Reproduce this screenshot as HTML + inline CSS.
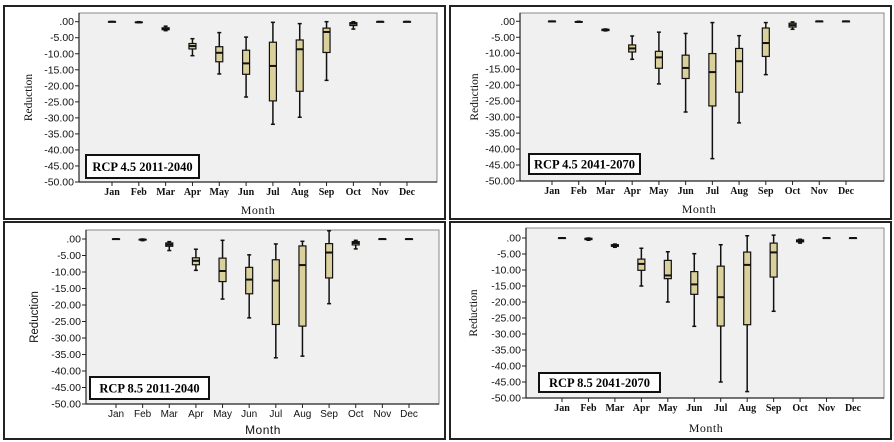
<!DOCTYPE html>
<html><head><meta charset="utf-8">
<style>
html,body{margin:0;padding:0;background:#fff;}
svg{display:block;}
</style></head>
<body>
<svg id="chart" width="894" height="442" viewBox="0 0 894 442" xmlns="http://www.w3.org/2000/svg"></svg>
<script>
const months = ["Jan","Feb","Mar","Apr","May","Jun","Jul","Aug","Sep","Oct","Nov","Dec"];
const yTicks = [0,-5,-10,-15,-20,-25,-30,-35,-40,-45,-50];
const yTickLabels = [".00","-5.00","-10.00","-15.00","-20.00","-25.00","-30.00","-35.00","-40.00","-45.00","-50.00"];
const panelTitles = ["RCP 4.5 2011-2040","RCP 4.5 2041-2070","RCP 8.5 2011-2040","RCP 8.5 2041-2070"];
// each: [min, q1, median, q3, max] per month
const rcp45a = [[0,0,0,0,0],[-0.3,-0.2,-0.2,-0.1,0],[-2.8,-2.5,-2.2,-1.9,-1.4],[-10.6,-8.5,-7.6,-6.8,-5.3],[-16.3,-12.5,-9.7,-7.8,-3.4],[-23.5,-16.4,-13,-8.9,-4.8],[-32,-24.7,-13.8,-6.4,-0.2],[-29.8,-21.7,-8.6,-5.7,-0.6],[-18.3,-9.6,-3.2,-2.0,0],[-2.3,-1.2,-0.6,-0.3,0],[0,0,0,0,0],[0,0,0,0,0]];
const rcp45b = [[0,0,0,0,0],[-0.2,-0.2,-0.2,-0.1,0],[-3.0,-2.9,-2.7,-2.5,-2.4],[-11.9,-9.6,-8.5,-7.4,-4.6],[-19.6,-14.7,-11.3,-9.4,-3.4],[-28.4,-17.9,-14.6,-10.6,-3.8],[-43,-26.5,-15.9,-10.1,-0.4],[-31.8,-22.2,-12.5,-8.5,-4.5],[-16.7,-11,-6.8,-2.1,-0.4],[-2.5,-1.8,-1.2,-0.6,-0.2],[0,0,0,0,0],[0,0,0,0,0]];
const rcp85a = [[0,0,0,0,0],[-0.5,-0.3,-0.2,-0.1,0],[-3.5,-2.2,-1.7,-1.2,-0.8],[-9.5,-7.8,-6.6,-5.7,-3.1],[-18.2,-12.9,-9.7,-5.8,-0.4],[-23.9,-16.6,-12.3,-8.6,-4.8],[-36,-25.9,-12.6,-6.3,-1.5],[-35.5,-26.4,-7.9,-2.1,-0.7],[-19.6,-11.8,-4.1,-1.4,2.5],[-3,-1.8,-1.2,-0.8,-0.4],[0,0,0,0,0],[0,0,0,0,0]];
const rcp85b = [[0,0,0,0,0],[-0.7,-0.5,-0.3,-0.1,0],[-2.9,-2.6,-2.3,-2.1,-1.9],[-15,-10.1,-8.1,-6.6,-3.2],[-20,-12.7,-11.7,-7,-4.3],[-27.6,-17.6,-14.5,-10.5,-4.9],[-45,-27.5,-18.5,-8.8,-2.1],[-48,-27.1,-8.4,-4.4,0.7],[-22.9,-12.2,-4.5,-1.6,0.9],[-1.6,-1.2,-0.9,-0.6,-0.4],[0,0,0,0,0],[0,0,0,0,0]];
const panelData = [rcp45a, rcp45b, rcp85a, rcp85b];

const layouts = [
 {bx:4,by:6,bw:441,bh:213,pl:79,pr:437,pt:13,y0:21.7,y50:182,jan:112,dec:407,lx:86,ly:155,lw:113,lh:23,mx:258,my:214,rx:32,font:"Liberation Serif",bold:true},
 {bx:450,by:6,bw:441,bh:213,pl:520,pr:884,pt:13,y0:21.3,y50:181,jan:552,dec:846,lx:529,ly:154,lw:111,lh:20,mx:699,my:213,rx:478,font:"Liberation Serif",bold:true},
 {bx:4,by:222,bw:441,bh:217,pl:86,pr:439,pt:230,y0:239,y50:404,jan:116,dec:409,lx:90,ly:377,lw:119,lh:22,mx:263,my:434,rx:38,font:"Liberation Sans",bold:false},
 {bx:450,by:222,bw:441,bh:217,pl:526,pr:884,pt:228,y0:238,y50:398,jan:562,dec:853,lx:539,ly:373,lw:121,lh:19,mx:706,my:432,rx:477,font:"Liberation Serif",bold:true}
];
const NS="http://www.w3.org/2000/svg";
const svg=document.getElementById('chart');
function mk(tag,attrs,parent){const e=document.createElementNS(NS,tag);for(const k in attrs)e.setAttribute(k,attrs[k]);(parent||svg).appendChild(e);return e;}

layouts.forEach((L,pi)=>{
  const g=mk('g',{});
  
  
  const yS=v=>L.y0+(v/-50)*(L.y50-L.y0);
  const xS=i=>L.jan+i*(L.dec-L.jan)/11;
  const fr=mk('rect',{x:L.bx,y:L.by,width:L.bw,height:L.bh,fill:'#fff',stroke:'#222','stroke-width':2},g);
  
  
  const pa=mk('rect',{x:L.pl,y:L.pt,width:L.pr-L.pl,height:L.y50-L.pt,fill:'#f0f0f0',stroke:'#888','stroke-width':1},g);
  
  
  mk('line',{x1:L.pl,y1:L.pt,x2:L.pl,y2:L.y50,stroke:'#222','stroke-width':1.2},g);
  mk('line',{x1:L.pl,y1:L.y50,x2:L.pr,y2:L.y50,stroke:'#222','stroke-width':1.2},g);
  const ff=L.font+', sans-serif';
  yTicks.forEach((t,i)=>{
    const y=yS(t);
    mk('line',{x1:L.pl-4,y1:y,x2:L.pl,y2:y,stroke:'#222'},g);
    const tx=mk('text',{x:L.pl-5,y:y+3.5,'text-anchor':'end','font-family':'"Liberation Sans", sans-serif','font-size':10.5,fill:'#111'},g);
    tx.textContent=yTickLabels[i];
    
    
  });
  months.forEach((m,i)=>{
    const x=xS(i);
    mk('line',{x1:x,y1:L.y50,x2:x,y2:L.y50+4,stroke:'#222'},g);
    const tx=mk('text',{x:x,y:L.y50+13,'text-anchor':'middle','font-family':ff,'font-size':10,'font-weight':L.bold?'bold':'normal',fill:'#111'},g);
    tx.textContent=m;
    
    
    const d=panelData[pi][i];
    const bg=mk('g',{},g);
    
    
    const w=7, c=2;
    mk('line',{x1:x,y1:yS(d[0]),x2:x,y2:yS(d[4]),stroke:'#111','stroke-width':1.5},bg);
    mk('line',{x1:x-c,y1:yS(d[0]),x2:x+c,y2:yS(d[0]),stroke:'#111','stroke-width':1.5},bg);
    mk('line',{x1:x-c,y1:yS(d[4]),x2:x+c,y2:yS(d[4]),stroke:'#111','stroke-width':1.5},bg);
    const top=yS(d[3]), bot=yS(d[1]);
    mk('rect',{x:x-w/2,y:top,width:w,height:Math.max(bot-top,0.5),fill:'#d9d09b',stroke:'#111','stroke-width':1.2},bg);
    mk('line',{x1:x-w/2,y1:yS(d[2]),x2:x+w/2,y2:yS(d[2]),stroke:'#111','stroke-width':2},bg);
  });
  const mt=mk('text',{x:L.mx,y:L.my,'text-anchor':'middle','font-family':ff,'font-size':12,fill:'#111','letter-spacing':0.5},g);
  mt.textContent='Month';
  
  
  const cy=(L.pt+L.y50)/2;
  const rt=mk('text',{x:L.rx,y:cy,'text-anchor':'middle','font-family':ff,'font-size':11.5,fill:'#111',transform:`rotate(-90 ${L.rx} ${cy})`},g);
  rt.textContent='Reduction';
  
  
  const lg=mk('rect',{x:L.lx,y:L.ly,width:L.lw,height:L.lh,fill:'#fff',stroke:'#111','stroke-width':2},g);
  
  
  const lt=mk('text',{x:L.lx+L.lw/2,y:L.ly+L.lh/2+4.5,'text-anchor':'middle','font-family':'"Liberation Serif", serif','font-size':12.5,'font-weight':'bold',fill:'#000'},g);
  lt.textContent=panelTitles[pi];
  
  
});
</script>
</body></html>
